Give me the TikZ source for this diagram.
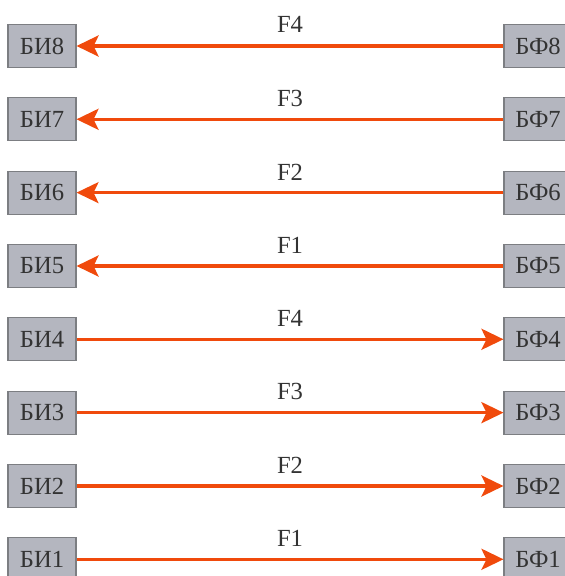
\documentclass[tikz,border=0pt]{standalone}
\usepackage{fontspec}
\setmainfont{Liberation Serif}
\usetikzlibrary{arrows.meta}
\definecolor{flow}{HTML}{F04A0C}
\definecolor{boxfill}{HTML}{B4B6BF}
\definecolor{boxline}{HTML}{7C7E82}
\definecolor{labeltext}{HTML}{333333}

\begin{document}
\begin{tikzpicture}[font=\fontsize{14}{16}\selectfont,
 blk/.style={draw=boxline,fill=boxfill,line width=0.6pt,minimum width=1.36cm,minimum height=0.86cm,text=labeltext},
 flowline/.style={flow,line width=2pt,-{Stealth[length=0.44cm,width=0.42cm,inset=0.1cm]}},
 flowlabel/.style={midway,above=3pt,text=labeltext}]
 \useasboundingbox (0,0) rectangle (11.28,-11.52);
 % left column
 \node[blk] (bi8) at (0.84,-0.92) {БИ8};
 \node[blk] (bi7) at (0.84,-2.386) {БИ7};
 \node[blk] (bi6) at (0.84,-3.853) {БИ6};
 \node[blk] (bi5) at (0.84,-5.32) {БИ5};
 \node[blk] (bi4) at (0.84,-6.786) {БИ4};
 \node[blk] (bi3) at (0.84,-8.253) {БИ3};
 \node[blk] (bi2) at (0.84,-9.72) {БИ2};
 \node[blk] (bi1) at (0.84,-11.186) {БИ1};
 % right column
 \node[blk] (bf8) at (10.76,-0.92) {БФ8};
 \node[blk] (bf7) at (10.76,-2.386) {БФ7};
 \node[blk] (bf6) at (10.76,-3.853) {БФ6};
 \node[blk] (bf5) at (10.76,-5.32) {БФ5};
 \node[blk] (bf4) at (10.76,-6.786) {БФ4};
 \node[blk] (bf3) at (10.76,-8.253) {БФ3};
 \node[blk] (bf2) at (10.76,-9.72) {БФ2};
 \node[blk] (bf1) at (10.76,-11.186) {БФ1};
 % arrows
 \draw[flowline,line width=2.2pt] (bf8)--(bi8) node[flowlabel] () {F4};
 \draw[flowline] (bf7)--(bi7) node[flowlabel] () {F3};
 \draw[flowline,line width=1.6pt] (bf6)--(bi6) node[flowlabel] () {F2};
 \draw[flowline] (bf5)--(bi5) node[flowlabel] () {F1};
 \draw[flowline] (bi4)--(bf4) node[flowlabel] () {F4};
 \draw[flowline] (bi3)--(bf3) node[flowlabel] () {F3};
 \draw[flowline] (bi2)--(bf2) node[flowlabel] () {F2};
 \draw[flowline] (bi1)--(bf1) node[flowlabel] () {F1};
\end{tikzpicture}
\end{document}
